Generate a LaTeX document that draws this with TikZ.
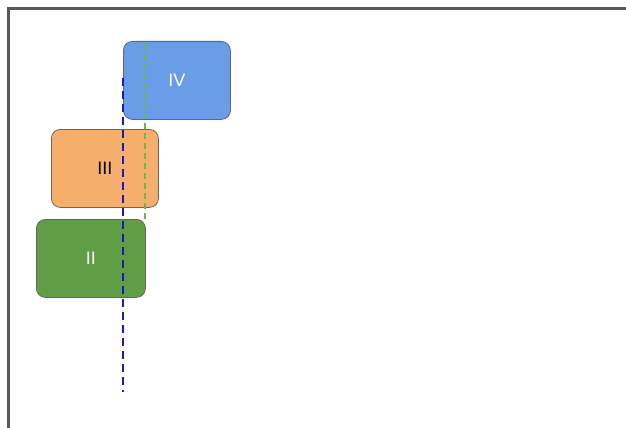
\documentclass[tikz,border=0pt]{standalone}
\usepackage{fontspec}
\setmainfont{Liberation Sans}
\begin{document}
\begin{tikzpicture}[x=1pt,y=-1pt,
  blk/.style={draw=black!60,line width=0.8pt,rounded corners=9pt,minimum width=107pt,minimum height=78pt,anchor=north west,inner sep=0pt,font=\fontsize{18}{20}\selectfont},
  bdash/.style={draw={rgb,255:red,25;green,25;blue,190},line width=2.8pt,dash pattern=on 8pt off 5pt},
  gdash/.style={draw={rgb,255:red,110;green,180;blue,80},line width=1.6pt,dash pattern=on 6pt off 4pt}]
\useasboundingbox (0,0) rectangle (626,428);
\fill[white] (0,0) rectangle (626,428);
\begin{scope}
\clip (0,0) rectangle (626,428);
\draw[draw=black!65,line width=3pt] (8.5,8.5) rectangle (660,460);
\end{scope}
\definecolor{cblue}{RGB}{106,157,232}
\definecolor{corange}{RGB}{245,174,107}
\definecolor{cgreen}{RGB}{96,158,70}
\node[blk,fill=cblue,text=white] (iv) at (123,41) {IV};
\node[blk,fill=corange,text=black] (iii) at (51,129) {III};
\node[blk,fill=cgreen,text=white,minimum width=109pt] (ii) at (36,219) {II};
\coordinate (gtop) at (145,43);
\coordinate (gbot) at (145,222);
\coordinate (btop) at (123,78);
\coordinate (bbot) at (123,392);
\draw[gdash] (gtop) -- (gbot);
\draw[bdash] (btop) -- (bbot);
\end{tikzpicture}
\end{document}
